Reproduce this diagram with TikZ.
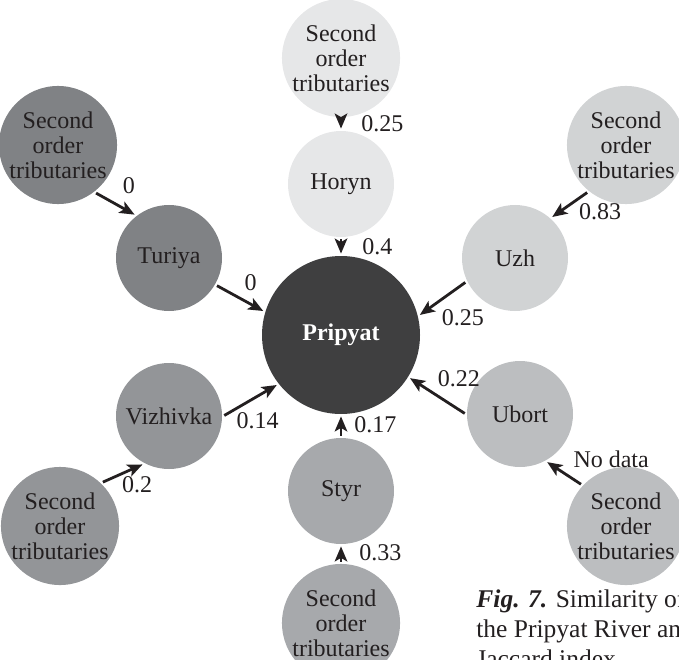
\documentclass[tikz,border=0pt]{standalone}
\usepackage{fontspec}
\setmainfont{Liberation Serif}
\usepackage{xcolor}
\usepackage{tikz}
\usetikzlibrary{arrows.meta,shapes,positioning}

\definecolor{ink}{HTML}{231F20}
\definecolor{pripyatc}{HTML}{3F3F40}
\definecolor{turiyac}{HTML}{808285}
\definecolor{vizhivkac}{HTML}{939598}
\definecolor{styrc}{HTML}{A7A9AC}
\definecolor{ubortc}{HTML}{BCBEC0}
\definecolor{uzhc}{HTML}{D1D3D4}
\definecolor{horync}{HTML}{E6E7E8}

\begin{document}
\begin{tikzpicture}[x=1pt, y=-1pt, ->, >={Stealth[length=15pt,width=12.5pt,inset=3.5pt]}, shorten >=1pt, shorten <=1pt, line width=2.8pt, color=ink,
  river/.style={circle, minimum size=106pt, inner sep=0pt, align=center, font=\fontsize{24}{25}\selectfont},
  lbl/.style={inner sep=2pt, font=\fontsize{24}{25}\selectfont}]

\useasboundingbox (0,0) rectangle (679,660);
\clip (0,0) rectangle (679,660);

\node [river, fill=pripyatc, minimum size=158pt, text=white, font=\fontsize{24}{25}\selectfont\bfseries] (pripyat) at (341,335) {Pripyat};

\node [river, fill=horync] (horyn) at (341,184) {Horyn};
\node [river, fill=horync] (horyn2) at (341,58) {Second\\order\\tributaries};
\node [river, fill=styrc] (styr) at (341,491) {Styr};
\node [river, fill=styrc] (styr2) at (341,623) {Second\\order\\tributaries};
\node [river, fill=turiyac] (turiya) at (169,258) {Turiya};
\node [river, fill=turiyac] (turiya2) at (58,145) {Second\\order\\tributaries};
\node [river, fill=vizhivkac] (vizhivka) at (169,416) {Vizhivka};
\node [river, fill=vizhivkac] (vizhivka2) at (60,526) {Second\\order\\tributaries};
\node [river, fill=uzhc] (uzh) at (515,258) {Uzh};
\node [river, fill=uzhc] (uzh2) at (626,145) {Second\\order\\tributaries};
\node [river, fill=ubortc] (ubort) at (520,414) {Ubort};
\node [river, fill=ubortc] (ubort2) at (626,526) {Second\\order\\tributaries};

\path
(horyn2) edge node [lbl, anchor=west, xshift=17pt] {0.25} (horyn)
(horyn) edge node [lbl, anchor=west, xshift=18pt] {0.4} (pripyat)
(styr2) edge node [lbl, pos=.6, anchor=west, xshift=15pt] {0.33} (styr)
(styr) edge node [lbl, pos=.55, anchor=west, xshift=10pt] {0.17} (pripyat)
(turiya2.-52) edge node [lbl, anchor=south west, xshift=4pt, yshift=7pt] {0} (turiya.128)
(turiya.-30) edge node [lbl, anchor=south west, xshift=1pt, yshift=4pt] {0} (pripyat.163)
(vizhivka2.46) edge node [lbl, anchor=north west, xshift=-4pt] {0.2} (vizhivka.242)
(vizhivka.east) edge node [lbl, anchor=north, xshift=7pt, yshift=-9pt] {0.14} (pripyat.218)
(uzh2.231) edge node [lbl, anchor=west, xshift=6pt, yshift=-7pt] {0.83} (uzh.48)
(uzh.206) edge node [lbl, anchor=north west, xshift=-4pt, yshift=-7pt] {0.25} (pripyat.14)
(ubort2.137) edge node [lbl, anchor=south west, xshift=6pt, yshift=2pt] {No data} (ubort.-61)
(ubort.180) edge node [lbl, anchor=south west, xshift=-3pt, yshift=6pt] {0.22} (pripyat.-32);

% caption, cut by the frame
\node [anchor=north west, align=left, inner sep=0pt, font=\fontsize{25.5}{30}\selectfont] (caption) at (475,588) {\textbf{\textit{Fig. 7.}} Similarity of\\the Pripyat River and\\Jaccard index};
\end{tikzpicture}
\end{document}
